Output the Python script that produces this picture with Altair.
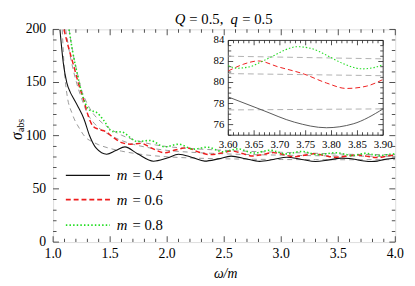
import altair as alt
import pandas as pd

# ---------------- data ----------------
# m = 0.4 (black, solid)
x_m04 = [1.06, 1.09, 1.12, 1.15, 1.18, 1.22, 1.27, 1.32, 1.38, 1.47, 1.55, 1.63, 1.74, 1.88,
         2.00, 2.10, 2.22, 2.33, 2.45, 2.56, 2.69, 2.81, 2.93, 3.05, 3.18, 3.30, 3.42, 3.53,
         3.60, 3.665, 3.728, 3.79, 3.842, 3.90, 3.95, 4.00]
y_m04 = [200, 168, 150, 141, 135, 127, 116, 100, 88, 82.6, 86.0, 89.5, 83.0, 76.0,
         79.0, 82.5, 79.6, 76.1, 78.2, 80.8, 78.3, 75.9, 77.6, 79.7, 77.7, 75.8, 77.3, 78.95,
         78.63, 77.4, 76.24, 75.71, 76.08, 77.5, 78.4, 78.8]
# m = 0.6 (red, dashed)
x_m06 = [1.095, 1.14, 1.18, 1.22, 1.27, 1.31, 1.35, 1.40, 1.46, 1.52, 1.60, 1.68, 1.77, 1.86,
         1.98, 2.07, 2.17, 2.28, 2.38, 2.48, 2.57, 2.66, 2.75, 2.84, 2.93, 3.02, 3.11, 3.20,
         3.29, 3.38, 3.47, 3.55, 3.60, 3.63, 3.658, 3.696, 3.747, 3.79, 3.829, 3.867, 3.90,
         3.95, 4.00]
y_m06 = [200, 181, 166, 150, 133, 118, 109, 106, 104, 99, 93.5, 92, 92.8, 88.5,
         84, 86.5, 88.6, 84.5, 82.2, 83.8, 85.6, 83.2, 80.9, 82.4, 84.1, 82.2, 80.2, 81.6,
         83.0, 81.3, 79.8, 80.5, 81.1, 81.75, 82.05, 81.5, 80.8, 79.96, 79.44, 79.65, 80.3,
         81.3, 81.9]
# m = 0.8 (green, dotted)
x_m08 = [1.14, 1.17, 1.21, 1.25, 1.32, 1.38, 1.44, 1.52, 1.60, 1.74, 1.85, 1.98, 2.10, 2.23,
         2.35, 2.49, 2.62, 2.76, 2.90, 3.04, 3.18, 3.32, 3.48, 3.55, 3.60, 3.617, 3.645, 3.665,
         3.69, 3.71, 3.733, 3.76, 3.79, 3.82, 3.86, 3.88, 3.90, 3.95, 4.00]
y_m08 = [200, 180, 159, 141, 124, 122, 115, 104, 103.5, 94.5, 95.5, 89.5, 92.0, 87.3,
         89.2, 84.9, 87.6, 83.7, 86.3, 82.9, 85.2, 82.1, 84.0, 82.8, 81.6, 81.36, 81.55, 82.0,
         82.6, 83.1, 83.4, 83.25, 82.6, 81.85, 81.3, 81.4, 81.7, 82.5, 83.0]
# gray dashed approximations
gx_04 = [1.08, 1.10, 1.12, 1.17, 1.23, 1.28, 1.35, 1.40, 1.50, 1.60, 1.70, 1.80, 1.90, 2.00,
         2.20, 2.40, 2.60, 2.80, 3.00, 3.30, 3.60, 3.90, 4.00]
gy_04 = [200, 160, 140, 120, 107, 99, 94, 91.5, 88, 85.5, 83.6, 82.1, 81.0, 80.2,
         79.1, 78.5, 78.1, 77.8, 77.6, 77.5, 77.4, 77.5, 77.5]
gx_06 = [1.11, 1.15, 1.20, 1.25, 1.30, 1.35, 1.40, 1.50, 1.60, 1.70, 1.80, 1.90, 2.00,
         2.20, 2.40, 2.60, 2.80, 3.00, 3.30, 3.60, 3.90, 4.00]
gy_06 = [200, 175, 152, 135, 121, 113, 107.5, 100.5, 95.5, 92, 89.5, 87.6, 86.2,
         84.5, 83.4, 82.6, 82.1, 81.7, 81.2, 80.85, 80.65, 80.6]
gx_08 = [1.14, 1.17, 1.21, 1.25, 1.30, 1.35, 1.40, 1.50, 1.60, 1.70, 1.80, 1.90, 2.00,
         2.20, 2.40, 2.60, 2.80, 3.00, 3.20, 3.45, 3.60, 3.90, 4.00]
gy_08 = [200, 180, 160, 143, 130, 121, 115, 106.5, 100.5, 96.5, 93.5, 91.3, 89.8,
         88.0, 86.8, 85.8, 85.0, 84.4, 83.8, 83.0, 82.5, 82.25, 82.2]

legend_labels = ["0.4", "0.6", "0.8"]

# tick labels
main_x_major = [1.0, 1.5, 2.0, 2.5, 3.0, 3.5, 4.0]
main_y_major = [0, 50, 100, 150, 200]
inset_x_major = [3.60, 3.65, 3.70, 3.75, 3.80, 3.85, 3.90]
inset_y_major = [76, 78, 80, 82, 84]

main_x_minor = [round(1.0 + 0.1 * i, 2) for i in range(31) if i % 5]
main_y_minor = [v for v in range(0, 201, 10) if v % 50]
inset_x_minor = [round(3.6 + 0.01 * i, 3) for i in range(31) if i % 5]
inset_y_minor = [75.0 + 0.5 * i for i in range(19) if (75.0 + 0.5 * i) not in inset_y_major]

# ---------------- styling ----------------
W, H = 349, 217
SERIF = "Liberation Serif"
FRAME = "#222222"
BLACK = "#111111"
RED = "#ee1c1c"
GREEN = "#22dd22"
GRAY = "#999999"

MX = alt.Scale(domain=[1.0, 4.0], nice=False, zero=False)
MY = alt.Scale(domain=[0, 200], nice=False, zero=False)
IX = alt.Scale(domain=[3.6, 3.9], nice=False, zero=False, range=[178.7, 336.7])
IY = alt.Scale(domain=[75, 84], nice=False, zero=False, range=[108, 11.3])

one = pd.DataFrame({"a": [0]})


def df(xs, ys):
    return pd.DataFrame({"x": xs, "y": ys})


def line(xs, ys, color, dash, sw, sx, sy, inset=False):
    ch = alt.Chart(df(xs, ys))
    if inset:
        ch = ch.transform_filter("datum.x >= 3.5999 && datum.x <= 3.9001")
    mk = dict(color=color, strokeWidth=sw, interpolate="monotone", clip=True)
    if dash:
        mk["strokeDash"] = dash
    return ch.mark_line(**mk).encode(
        x=alt.X("x:Q", scale=sx, axis=None),
        y=alt.Y("y:Q", scale=sy, axis=None),
    )


def xticks(vals, at, size, sx, sy, inward_up):
    off = -size / 2 if inward_up else size / 2
    return alt.Chart(pd.DataFrame({"v": vals})).mark_tick(
        orient="vertical", size=size, thickness=0.8, color=FRAME, opacity=1, yOffset=off
    ).encode(x=alt.X("v:Q", scale=sx, axis=None), y=alt.Y(datum=at, scale=sy, axis=None))


def yticks(vals, at, size, sx, sy, inward_right):
    off = size / 2 if inward_right else -size / 2
    return alt.Chart(pd.DataFrame({"v": vals})).mark_tick(
        orient="horizontal", size=size, thickness=0.8, color=FRAME, opacity=1, xOffset=off
    ).encode(y=alt.Y("v:Q", scale=sy, axis=None), x=alt.X(datum=at, scale=sx, axis=None))


def xlabels(vals, at, sx, sy, size, fmt, dy):
    return alt.Chart(pd.DataFrame({"v": vals})).mark_text(
        font=SERIF, fontSize=size, baseline="middle", align="center", dy=dy, color="black"
    ).encode(x=alt.X("v:Q", scale=sx, axis=None), y=alt.Y(datum=at, scale=sy, axis=None),
             text=alt.Text("v:Q", format=fmt))


def ylabels(vals, at, sx, sy, size, fmt, dx):
    return alt.Chart(pd.DataFrame({"v": vals})).mark_text(
        font=SERIF, fontSize=size, baseline="middle", align="right", dx=dx, color="black"
    ).encode(y=alt.Y("v:Q", scale=sy, axis=None), x=alt.X(datum=at, scale=sx, axis=None),
             text=alt.Text("v:Q", format=fmt))


def txt(s, x, y, size=15, italic=False, align="left", angle=0):
    kw = dict(text=s, font=SERIF, fontSize=size, align=align, baseline="middle", color="black")
    if italic:
        kw["fontStyle"] = "italic"
    if angle:
        kw["angle"] = angle
    return alt.Chart(one).mark_text(**kw).encode(x=alt.value(x), y=alt.value(y))


def legend_line(color, dash, sw, y):
    kw = dict(color=color, strokeWidth=sw)
    if dash:
        kw["strokeDash"] = dash
    return alt.Chart(one).mark_rule(**kw).encode(x=alt.value(13), x2=alt.value(58), y=alt.value(y))


# ---------------- main panel ----------------
main_layers = [
    xticks(main_x_major, 0, 6, MX, MY, True),
    xticks(main_x_minor, 0, 3.5, MX, MY, True),
    xticks(main_x_major, 200, 6, MX, MY, False),
    xticks(main_x_minor, 200, 3.5, MX, MY, False),
    yticks(main_y_major, 1.0, 6, MX, MY, True),
    yticks(main_y_minor, 1.0, 3.5, MX, MY, True),
    yticks(main_y_major, 4.0, 6, MX, MY, False),
    yticks(main_y_minor, 4.0, 3.5, MX, MY, False),
    xlabels(main_x_major, 0, MX, MY, 14, ".1f", 12),
    ylabels(main_y_major, 1.0, MX, MY, 14, "d", -7),
    line(gx_04, gy_04, GRAY, [5, 4], 1, MX, MY),
    line(gx_06, gy_06, GRAY, [5, 4], 1, MX, MY),
    line(gx_08, gy_08, GRAY, [5, 4], 1, MX, MY),
    line(x_m04, y_m04, BLACK, None, 1.1, MX, MY),
    line(x_m06, y_m06, RED, [5, 3], 1.5, MX, MY),
    line(x_m08, y_m08, GREEN, [1.5, 2.2], 1.6, MX, MY),
    # legend
    legend_line(BLACK, None, 1.2, 149),
    legend_line(RED, [5, 3], 1.6, 173.7),
    legend_line(GREEN, [1.5, 2.2], 1.7, 199.7),
]
for lab, yy in zip(legend_labels, [149, 173.7, 199.7]):
    main_layers.append(txt("m", 65, yy, 15, italic=True))
    main_layers.append(txt("= " + lab, 81, yy, 15))
# title pieces
main_layers += [
    txt("Q", 124, -10, 15, italic=True),
    txt("= 0.5,", 139, -10, 15),
    txt("q", 181, -10, 15, italic=True),
    txt("= 0.5", 193, -10, 15),
    # axis titles
    txt("ω/m", 176, 250, 14, italic=True, align="center"),
    txt("σ", -37, 109, 16, italic=True, align="center", angle=270),
    txt("abs", -33, 98, 10, align="center", angle=270),
]
main = alt.layer(*main_layers)

# ---------------- inset panel ----------------
inset_layers = [
    alt.Chart(one).mark_rect(fill="white", stroke=FRAME, strokeWidth=0.9).encode(
        x=alt.X(datum=3.6, scale=IX, axis=None), x2=alt.X2(datum=3.9),
        y=alt.Y(datum=75, scale=IY, axis=None), y2=alt.Y2(datum=84)),
    xticks(inset_x_major, 75, 5, IX, IY, True),
    xticks(inset_x_minor, 75, 3, IX, IY, True),
    xticks(inset_x_major, 84, 5, IX, IY, False),
    xticks(inset_x_minor, 84, 3, IX, IY, False),
    yticks(inset_y_major, 3.6, 5, IX, IY, True),
    yticks(inset_y_minor, 3.6, 3, IX, IY, True),
    yticks(inset_y_major, 3.9, 5, IX, IY, False),
    yticks(inset_y_minor, 3.9, 3, IX, IY, False),
    line(gx_04, gy_04, "#b0b0b0", [6, 4], 1, IX, IY, inset=True),
    line(gx_06, gy_06, "#b0b0b0", [6, 4], 1, IX, IY, inset=True),
    line(gx_08, gy_08, "#b0b0b0", [6, 4], 1, IX, IY, inset=True),
    line(x_m04, y_m04, "#444444", None, 0.9, IX, IY, inset=True),
    line(x_m06, y_m06, RED, [5, 3], 1.0, IX, IY, inset=True),
    line(x_m08, y_m08, GREEN, [1.5, 2], 1.1, IX, IY, inset=True),
    xlabels(inset_x_major, 75, IX, IY, 11, ".2f", 10),
    ylabels(inset_y_major, 3.6, IX, IY, 11, "d", -4),
]
inset = alt.layer(*inset_layers)

chart = alt.layer(main, inset).resolve_scale(x="independent", y="independent").properties(
    width=W, height=H,
    autosize=alt.AutoSizeParams(type="none"),
    padding={"left": 46, "top": 19, "right": 12, "bottom": 40},
).configure_view(stroke=FRAME, strokeWidth=1).configure(background="white")

chart.save("out.html", embed_options={"renderer": "svg", "actions": False})
